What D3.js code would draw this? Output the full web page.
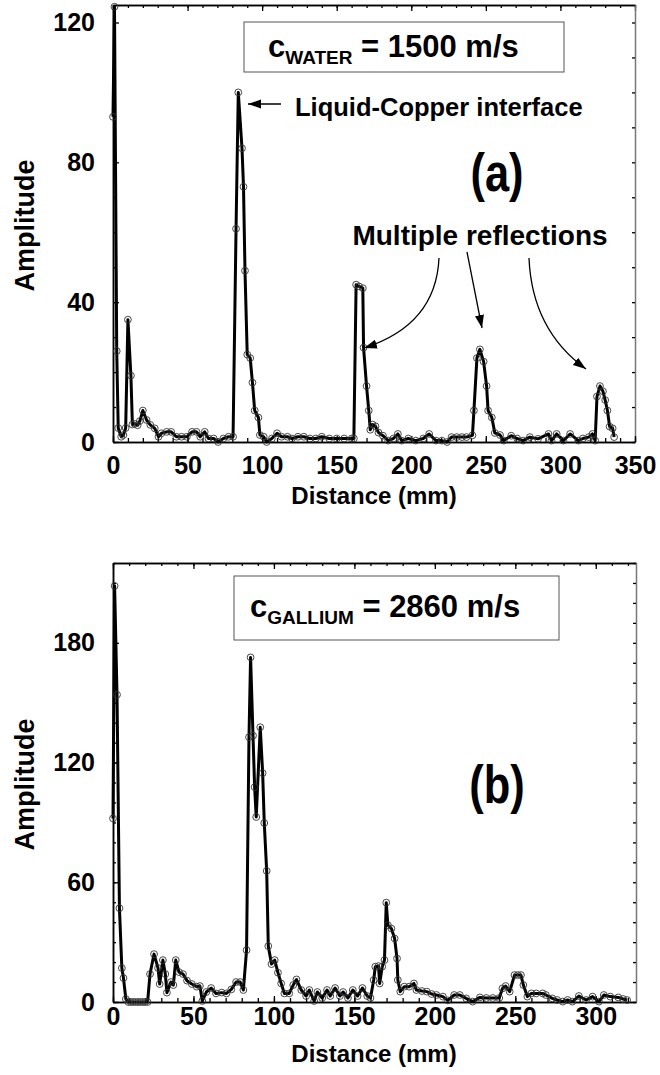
<!DOCTYPE html>
<html>
<head>
<meta charset="utf-8">
<script src="https://cdn.jsdelivr.net/npm/d3@7"></script>
<style>
  body { margin: 0; background: #fff; }
  text { font-family: "Liberation Sans", Arial, Helvetica, sans-serif; font-weight: bold; fill: #000; }
</style>
</head>
<body>
<svg id="chart" width="660" height="1075"></svg>
<script>
// (a) water: distance (mm) and amplitude
const distA = [0, 1, 2.5, 3.5, 5.5, 7, 8.5, 10, 12, 13, 14.5, 16.5, 18, 20, 22.5, 25, 28, 30.5, 32.5, 36, 39,
  42.5, 46, 49.5, 53, 56, 58.5, 61.5, 64, 67.5, 70.5, 74, 77.5, 80.5, 82.5, 84, 86.5, 87.5, 88.5, 90, 92,
  93.5, 95, 97.5, 98.5, 101, 103, 106.5, 110, 113, 117, 120, 124, 128, 132, 136, 140, 145, 150, 155, 160,
  161.5, 163, 165, 167.5, 168, 170, 171.5, 172.5, 174, 176, 178, 181, 184.5, 188, 191, 193.5, 198, 203,
  208, 212, 216.5, 220.5, 224, 227, 230.5, 234, 237, 241, 242, 244, 246, 248.5, 250.5, 251.5, 254, 256,
  259.5, 262, 267, 271, 275, 279.5, 285, 292, 294, 297.5, 302, 306.5, 312, 315, 319, 321.5, 323.3, 324.5,
  326.5, 328.5, 330, 331.5, 333, 335, 336];
const ampA = [93, 124.5, 26, 4, 1.5, 2, 4, 35, 19, 5, 5.2, 4.8, 6, 9, 6.3, 4.9, 3.9, 1.5, 2.5, 2.9, 2.9,
  1.5, 1.5, 1.5, 2.9, 2.9, 1.5, 2.9, 1, 1, 0, 1, 1.5, 1.5, 61, 100, 84, 73, 49, 25, 24,
  17, 9, 7, 2, 1.5, 0, 1, 2.5, 1.5, 1.5, 1, 1.5, 1.5, 1, 1, 1.5, 1, 1, 1, 1,
  1, 45, 44.5, 44, 27, 16, 9, 3.5, 5, 4.5, 2.7, 1.8, 0.4, 1, 2.3, 0.4, 1, 0.4,
  1, 2.3, 0.4, 0.4, 0, 1.4, 1.4, 1.4, 1.4, 1.9, 9, 24, 26.5, 23, 16, 9, 7, 2.6,
  2, 0.4, 1.8, 1, 0.4, 1.4, 0.9, 2.3, 0.4, 2.3, 0.4, 2.3, 0.4, 1, 1.4, 2.3, 0.4, 13,
  16, 14.5, 12, 9, 4.4, 3.9, 1.4];

// (b) gallium: distance (mm) and amplitude
const distB = [0, 1, 2.5, 4, 5.5, 6.5, 8, 9.5, 11, 12.5, 14, 15.5, 17, 18.5, 20, 21.5, 23, 25.5, 28, 29, 31,
  32.5, 33.5, 36, 37.5, 39, 41, 43.5, 46, 49, 52, 54, 55.5, 58, 61, 64, 67.5, 70.5, 73.5, 76.5, 79, 81,
  83, 84.5, 85.5, 87, 88, 89, 91.5, 93, 94, 95.5, 96.5, 98.5, 100.5, 102.5, 104.5, 106.5, 109.5, 112, 114,
  117, 120, 122, 125, 127, 130, 133, 135, 138, 141, 143, 146, 149, 152, 155, 158, 160, 162, 163, 165,
  165.7, 167.3, 168.7, 169.8, 170.8, 173, 175, 176.5, 177, 178.5, 181, 184, 187, 188.5, 192, 195, 198, 201,
  205, 208, 212, 215.5, 219.5, 223.5, 228, 232, 236, 240, 242, 244, 246.5, 249.5, 251.5, 253.5, 255, 257.5,
  260, 263, 267, 269, 273, 276, 279.5, 282.5, 285.5, 289.5, 294, 298, 302, 305, 309, 314, 317, 319.5];
const ampB = [92, 208.5, 154, 47, 17, 12, 1.5, 0, 0, 0, 0, 0, 0, 0, 0, 0, 14, 24, 17, 9, 21,
  14, 4.7, 10, 8.5, 21, 15, 14, 10.7, 9, 7.7, 8, 0.5, 5, 7, 4.3, 4.7, 4.3, 6.3, 10, 10, 6,
  26, 132.7, 172.7, 133.5, 107.7, 92.7, 137.7, 114.7, 89.7, 65.7, 28, 19, 21, 14.7, 9.3, 4.3, 4.3, 8.5, 11.3,
  6, 3, 6, 0.5, 5, 2, 6, 3, 7, 3, 5, 2, 6, 3, 7, 3, 2, 11, 17.7, 18,
  9.3, 17.7, 21, 49.8, 38.5, 36.8, 31.8, 21.8, 11, 5.2, 7.7, 7.7, 9.3, 6, 5.5, 5.2, 4, 3.5,
  2.7, 0.8, 3.5, 3.5, 1.8, 0.2, 2.3, 2, 2, 2, 6.8, 8, 5.2, 13.5, 13.5, 13.5, 8.5, 2.7,
  4.3, 4.3, 4.3, 3.5, 1.8, 1, 0.2, 1, 0.2, 3, 1, 2.7, 0.2, 3.5, 2.7, 2.3, 1.5, 1];

const xTicksA = [0, 50, 100, 150, 200, 250, 300, 350];
const yTicksA = [0, 40, 80, 120];
const xTicksB = [0, 50, 100, 150, 200, 250, 300];
const yTicksB = [0, 60, 120, 180];

const svg = d3.select('#chart');

function drawPanel(p) {
    let x = d3.scaleLinear().domain(p.xDomain).range([p.left, p.right]);
    let y = d3.scaleLinear().domain(p.yDomain).range([p.bottom, p.top]);

    let g = svg.append('g');

    // minor ticks all round, pointing inward
    let xMinor = d3.range(p.xDomain[0], p.xDomain[1] + 0.01, 10);
    let yMinor = d3.range(p.yDomain[0], p.yDomain[1] + 0.01, 10);

    g.append('g').attr('transform', 'translate(0,' + p.bottom + ')')
        .call(d3.axisBottom(x).tickValues(xMinor).tickSize(-4).tickSizeOuter(0).tickFormat(''));
    g.append('g').attr('transform', 'translate(0,' + p.top + ')')
        .call(d3.axisTop(x).tickValues(xMinor).tickSize(-3).tickSizeOuter(0).tickFormat(''));
    g.append('g').attr('transform', 'translate(0,' + p.top + ')')
        .call(d3.axisTop(x).tickValues(p.xTicks).tickSize(-6).tickSizeOuter(0).tickFormat(''));
    g.append('g').attr('transform', 'translate(' + p.right + ',0)')
        .call(d3.axisRight(y).tickValues(yMinor).tickSize(-3).tickSizeOuter(0).tickFormat(''))
        .select('.domain').attr('stroke', '#777');
    g.append('g').attr('transform', 'translate(' + p.left + ',0)')
        .call(d3.axisLeft(y).tickValues(yMinor).tickSize(-3).tickSizeOuter(0).tickFormat(''));

    // labelled axes
    let xAxis = g.append('g').attr('transform', 'translate(0,' + p.bottom + ')')
        .call(d3.axisBottom(x).tickValues(p.xTicks).tickSize(-6).tickSizeOuter(0).tickPadding(p.xPad));
    let yAxis = g.append('g').attr('transform', 'translate(' + p.left + ',0)')
        .call(d3.axisLeft(y).tickValues(p.yTicks).tickSize(-6).tickSizeOuter(0).tickPadding(18));

    [xAxis, yAxis].forEach(function (a) {
        a.selectAll('text').style('font-size', '25px').style('font-family', null);
        a.attr('font-family', null).attr('font-size', null);
    });

    g.selectAll('.domain').attr('stroke-width', 1.5);
    g.selectAll('.tick line').attr('stroke-width', 1.3);

    // data
    let pts = p.dist.map(function (d, i) {
        return [d, p.amp[i]];
    });

    let line = d3.line()
        .x(function (d) { return x(d[0]); })
        .y(function (d) { return y(d[1]); });

    g.append('path')
        .datum(pts)
        .attr('d', line)
        .attr('fill', 'none')
        .attr('stroke', '#000')
        .attr('stroke-width', 3)
        .attr('stroke-linejoin', 'round');

    g.append('g').selectAll('circle')
        .data(pts)
        .enter().append('circle')
        .attr('cx', function (d) { return x(d[0]); })
        .attr('cy', function (d) { return y(d[1]); })
        .attr('r', 3.4)
        .attr('fill', 'none')
        .attr('stroke', '#333')
        .attr('stroke-width', 0.9);

    // axis titles
    g.append('text')
        .attr('transform', 'translate(34,' + ((p.top + p.bottom) / 2 + 2) + ') rotate(-90)')
        .attr('text-anchor', 'middle')
        .style('font-size', '27px')
        .text('Amplitude');

    g.append('text')
        .attr('x', 374)
        .attr('y', p.bottom + p.titleDy)
        .attr('text-anchor', 'middle')
        .style('font-size', '24px')
        .text('Distance (mm)');

    // legend box with speed of sound
    g.append('rect')
        .attr('x', p.box[0]).attr('y', p.box[1])
        .attr('width', p.box[2]).attr('height', p.box[3])
        .attr('fill', '#fff').attr('stroke', '#555').attr('stroke-width', 1);

    let t = g.append('text')
        .attr('x', p.box[0] + p.boxPad)
        .attr('y', p.box[1] + p.boxBase)
        .style('font-size', '31px');
    t.append('tspan').text('c');
    t.append('tspan').attr('dy', 7).style('font-size', '19px').text(p.sub);
    t.append('tspan').attr('dy', -7).text(' = ' + p.speed);

    // panel letter
    g.append('text')
        .attr('transform', 'translate(497,' + p.letterY + ') scale(0.82,1)')
        .attr('text-anchor', 'middle')
        .style('font-size', '53px')
        .text(p.letter);

    return {x: x, y: y, g: g};
}

let defs = svg.append('defs');
defs.append('marker')
    .attr('id', 'head')
    .attr('viewBox', '0 0 10 10')
    .attr('refX', 10).attr('refY', 5)
    .attr('markerWidth', 13).attr('markerHeight', 13)
    .attr('markerUnits', 'userSpaceOnUse')
    .attr('orient', 'auto')
    .append('path')
    .attr('d', 'M0,1.5L10,5L0,8.5Z')
    .attr('fill', '#000');

let a = drawPanel({
    xDomain: [0, 350], yDomain: [0, 125],
    left: 113, right: 635, top: 5, bottom: 442,
    xTicks: xTicksA, yTicks: yTicksA, xPad: 14, titleDy: 62,
    dist: distA, amp: ampA,
    box: [244, 22, 320, 50], boxPad: 24, boxBase: 35,
    sub: 'WATER', speed: '1500 m/s',
    letter: '(a)', letterY: 191
});

// annotations of panel (a)
a.g.append('text')
    .attr('x', 295).attr('y', 116)
    .style('font-size', '25.5px')
    .text('Liquid-Copper interface');

a.g.append('path')
    .attr('d', 'M281,104L248,104')
    .attr('stroke', '#000').attr('stroke-width', 1.6).attr('fill', 'none')
    .attr('marker-end', 'url(#head)');

a.g.append('text')
    .attr('x', 480).attr('y', 245)
    .attr('text-anchor', 'middle')
    .style('font-size', '28px')
    .text('Multiple reflections');

let arrows = [
    'M439,258Q436,325 364,348',
    'M467,252L482,328',
    'M529,258Q532,330 586,369'
];
a.g.selectAll('.arrow')
    .data(arrows)
    .enter().append('path')
    .attr('class', 'arrow')
    .attr('d', function (d) { return d; })
    .attr('fill', 'none')
    .attr('stroke', '#000')
    .attr('stroke-width', 1.3)
    .attr('marker-end', 'url(#head)');

drawPanel({
    xDomain: [0, 325], yDomain: [0, 220],
    left: 113, right: 636, top: 563, bottom: 1002,
    xTicks: xTicksB, yTicks: yTicksB, xPad: 5, titleDy: 60,
    dist: distB, amp: ampB,
    box: [234, 576, 325, 64], boxPad: 16, boxBase: 41,
    sub: 'GALLIUM', speed: '2860 m/s',
    letter: '(b)', letterY: 803
});
</script>
</body>
</html>
